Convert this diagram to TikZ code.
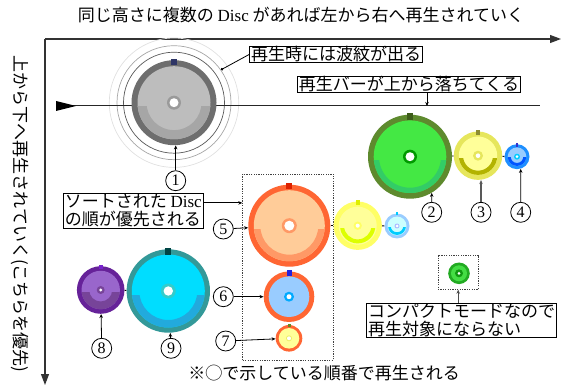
\documentclass[tikz,border=0pt]{standalone}
\usepackage{fontspec}
\setmainfont{Liberation Serif}
\newfontfamily\cjk{Noto Sans CJK JP}
\usetikzlibrary{arrows.meta,calc}

\definecolor{aR}{HTML}{6E6E6E}\definecolor{aI}{HTML}{BDBDBD}\definecolor{aB}{HTML}{A6A6A6}\definecolor{aH}{HTML}{9A9A9A}\definecolor{aM}{HTML}{2E3566}
\definecolor{bR}{HTML}{5E8A2E}\definecolor{bI}{HTML}{44E844}\definecolor{bB}{HTML}{33CC66}\definecolor{bH}{HTML}{009900}\definecolor{bM}{HTML}{3D5C1A}
\definecolor{cR}{HTML}{E6E65C}\definecolor{cI}{HTML}{FFFF99}\definecolor{cB}{HTML}{B3B300}\definecolor{cM}{HTML}{8C8C33}
\definecolor{eR}{HTML}{1E8FFF}\definecolor{eI}{HTML}{99CCFF}\definecolor{eB}{HTML}{0055FF}\definecolor{eH}{HTML}{00CCFF}\definecolor{eM}{HTML}{3333CC}
\definecolor{fR}{HTML}{FF6633}\definecolor{fI}{HTML}{FFCC99}\definecolor{fB}{HTML}{FF9966}\definecolor{fM}{HTML}{DD2200}
\definecolor{gR}{HTML}{FFFF66}\definecolor{gB}{HTML}{DDFF00}\definecolor{gM}{HTML}{DDEE00}
\definecolor{hI}{HTML}{CCFFFF}\definecolor{hH}{HTML}{AABBFF}
\definecolor{iH}{HTML}{00AAFF}\definecolor{iM}{HTML}{2222DD}
\definecolor{jH}{HTML}{EEEE66}\definecolor{jM}{HTML}{668822}
\definecolor{kR}{HTML}{662299}\definecolor{kI}{HTML}{9966CC}\definecolor{kB}{HTML}{774499}\definecolor{kM}{HTML}{7722CC}
\definecolor{lR}{HTML}{339999}\definecolor{lI}{HTML}{00DDFF}\definecolor{lB}{HTML}{22AADD}\definecolor{lH}{HTML}{33CCCC}\definecolor{lM}{HTML}{004444}
\definecolor{mR}{HTML}{22AA22}\definecolor{mI}{HTML}{44DD44}\definecolor{mH}{HTML}{119911}

\pgfkeys{/dk/.cd, R/.store in=\dkR, r/.store in=\dkr, bo/.store in=\dkbo, bi/.store in=\dkbi,
  h/.store in=\dkh, w/.store in=\dkw, mw/.store in=\dkmw, mh/.store in=\dkmh,
  rc/.store in=\dkrc, ic/.store in=\dkic, bc/.store in=\dkbc, hc/.store in=\dkhc, mc/.store in=\dkmc}

\newcommand\dsc[2]{%
  \pgfkeys{/dk/.cd, R=10, r=8, bo=0, bi=0, h=2, w=1, mw=0, mh=0, rc=black, ic=white, bc=white, hc=gray, mc=black, #2}%
  \fill[\dkrc] (#1.center) circle[radius=\dkR pt];
  \fill[\dkic] (#1.center) circle[radius=\dkr pt];
  \begin{scope}
    \clip ([shift={(-\dkR,0.1*\dkR)}]#1.center) rectangle ([shift={(\dkR,\dkR)}]#1.center);
    \fill[\dkbc, even odd rule] (#1.center) circle[radius=\dkbo pt] (#1.center) circle[radius=\dkbi pt];
  \end{scope}
  \fill[\dkhc] (#1.center) circle[radius=\dkh pt];
  \fill[white] (#1.center) circle[radius=\dkw pt];
  \fill[\dkmc] ([shift={(-\dkmw/2,-\dkR-1.5)}]#1.center) rectangle ++(\dkmw,\dkmh);
}

\begin{document}
\begin{tikzpicture}[x=1pt,y=-1pt,
  lbl/.style={font=\cjk\fontsize{17pt}{19pt}\selectfont},
  tbox/.style={lbl, draw, line width=0.8pt, inner xsep=1.5pt, inner ysep=0.5pt, fill=white},
  num/.style={circle, draw, line width=0.8pt, minimum size=20pt, inner sep=0pt, font=\fontsize{16pt}{16pt}\selectfont},
  con/.style={line width=0.8pt, -{Stealth[length=4pt,width=3.5pt]}},
  link/.style={line width=0.8pt},
  axis/.style={line width=1.1pt, black!80, -{Triangle[length=11pt,width=8pt]}},
  dsk/.style={circle, inner sep=0pt, minimum size=#1},
  grpbox/.style={draw=black!75, line width=0.8pt, dash pattern=on 1.2pt off 1.2pt, inner sep=0pt},
  rip/.style={circle, inner sep=0pt, draw=#1, line width=0.7pt}]
\useasboundingbox (0,0) rectangle (562,387);

% axes
\coordinate (O) at (45,39);
\coordinate (XE) at (561,39);
\coordinate (YE) at (45,385);
\draw[axis] (O) -- (XE);
\draw[axis] (O) -- (YE);
\node[lbl] (title) at (301,15) {同じ高さに複数の {\rmfamily Disc} があれば左から右へ再生されていく};
\node[lbl, rotate=-90] (vt) at (20,214) {上から下へ再生されていく(こちらを優先)};

% disc nodes
\node[dsk=85pt] (d1) at (174,102.7) {};
\node[dsk=84pt] (d2) at (410,156.7) {};
\node[dsk=48.4pt] (d3) at (478,155.7) {};
\node[dsk=25pt] (d4) at (517,156.7) {};
\node[dsk=82pt] (d5) at (289.3,225.7) {};
\node[dsk=48.4pt] (dA) at (357.7,225.7) {};
\node[dsk=25pt] (dB) at (397,226) {};
\node[dsk=50.6pt] (d6) at (289,296.7) {};
\node[dsk=26.6pt] (d7) at (289,338.3) {};
\node[dsk=47.6pt] (d8) at (100.7,290) {};
\node[dsk=83.4pt] (d9) at (168.3,291) {};
\node[dsk=21.6pt] (dC) at (459,273.3) {};

% ripples
\node[rip=black!12, minimum size=129.4pt] (rip3) at (d1.center) {};
\node[rip=black!35, minimum size=114pt] (rip2) at (d1.center) {};
\node[rip=black!65, minimum size=101pt] (rip1) at (d1.center) {};

% playback bar
\coordinate (barL) at (56,106);
\coordinate (barR) at (540,106);
\draw[line width=1pt, black!85] (barL) -- (barR);
\fill (barL) -- ++(0,-5) -- ++(20,5) -- ++(-20,5) -- cycle;

% groups
\node[grpbox, minimum width=90.6pt, minimum height=186pt] (grp) at (288,267) {};
\node[grpbox, minimum width=40.3pt, minimum height=34.3pt] (grpC) at (458.2,272.2) {};

% discs
\dsc{d1}{R=42.5, r=36.5, bo=36.5, bi=27.5, h=7, w=4.5, mw=6.5, mh=6.5, rc=aR, ic=aI, bc=aB, hc=aH, mc=aM}
\dsc{d2}{R=42, r=36.3, bo=36.3, bi=31, h=7, w=4.5, mw=6, mh=7, rc=bR, ic=bI, bc=bB, hc=bH, mc=bM}
\dsc{d3}{R=24.2, r=19.2, bo=19.2, bi=15, h=5, w=2.3, mw=4, mh=5, rc=cR, ic=cI, bc=cB, hc=cR, mc=cM}
\dsc{d4}{R=12.5, r=9.3, bo=9.3, bi=6.3, h=3, w=1.5, mw=1.2, mh=4, rc=eR, ic=eI, bc=eB, hc=eH, mc=eM}
\dsc{d5}{R=41, r=35.5, bo=35.5, bi=29, h=7.5, w=5, mw=6, mh=6, rc=fR, ic=fI, bc=fB, hc=fB, mc=fM}
\dsc{dA}{R=24.2, r=19, bo=17.7, bi=13.7, h=4.2, w=2, mw=4, mh=5, rc=gR, ic=cI, bc=gB, hc=gR, mc=gM}
\dsc{dB}{R=12.5, r=9.5, bo=9, bi=6.3, h=2.5, w=1.5, mw=1.5, mh=3, rc=eI, ic=hI, bc=eH, hc=hH, mc=eH}
\dsc{d6}{R=25.3, r=20.3, h=5, w=2.5, mw=5, mh=6, rc=fR, ic=eI, bc=eI, hc=iH, mc=iM}
\dsc{d7}{R=13.3, r=10.3, h=3, w=2, mw=3, mh=3, rc=fR, ic=cI, bc=cI, hc=jH, mc=jM}
\dsc{d8}{R=23.8, r=19.2, bo=19.2, bi=11.5, h=4, w=1.7, mw=4, mh=4, rc=kR, ic=kI, bc=kB, hc=kB, mc=kM}
\dsc{d9}{R=41.7, r=36.5, bo=36.5, bi=29, h=7.5, w=4.7, mw=6, mh=7, rc=lR, ic=lI, bc=lB, hc=lH, mc=lM}
\dsc{dC}{R=10.8, r=8, h=4, w=1.5, rc=mR, ic=mI, bc=mI, hc=mH}

% links between discs
\draw[link] (d2) -- (d3);
\draw[link] (d3) -- (d4);
\draw[link] (d5) -- (dA);
\draw[link] (dA) -- (dB);
\draw[link] (d8) -- (d9);

% text boxes
\node[tbox] (rbox) at (336,54.5) {再生時には波紋が出る};
\node[tbox] (pbox) at (409,84.5) {再生バーが上から落ちてくる};
\node[tbox, align=left, font=\cjk\fontsize{17pt}{18pt}\selectfont] (sbox) at (133.3,210.9) {ソートされた {\rmfamily Disc}\\の順が優先される};
\node[tbox, align=left, font=\cjk\fontsize{17pt}{18pt}\selectfont] (cbox) at (461.7,320.5) {コンパクトモードなので\\再生対象にならない};
\node[lbl] (note) at (324,373) {※◯で示している順番で再生される};

\draw[line width=0.8pt, -{Circle[length=2.5pt]}] (rbox.west) -- (rip2.35);
\coordinate (pa) at ([xshift=18pt]pbox.south);
\draw[con] (pa) -- (pa |- barR);
\coordinate (sa) at ([yshift=8pt]sbox.east);
\draw[con] (sa) -- (sa -| grp.west);
\draw[con, black!70, line width=1pt] (grpC.south |- cbox.north) -- (grpC.south);

% numbers
\node[num] (n1) at (175.7,180.7) {1};
\node[num] (n2) at (431.7,212.3) {2};
\node[num] (n3) at (481,212.3) {3};
\node[num] (n4) at (520.7,212.3) {4};
\node[num] (n5) at (223.3,229) {5};
\node[num] (n6) at (223.3,296.7) {6};
\node[num] (n7) at (225.7,341) {7};
\node[num] (n8) at (101.7,348.3) {8};
\node[num] (n9) at (171,348.3) {9};

\draw[con] (n1.north) -- (n1.north |- d1.south);
\draw[con] (n2.north) -- (d2.-59);
\draw[con, black!65, line width=1.2pt] (n3.north) -- (n3.north |- d3.south);
\draw[con] (n4.north) -- (d4.-73);
\draw[con] (n5) -- (d5);
\draw[con] (n6) -- (d6);
\draw[con] (n7) -- (d7);
\draw[con] (n8) -- (d8);
\draw[con] (n9) -- (d9);
\end{tikzpicture}
\end{document}
